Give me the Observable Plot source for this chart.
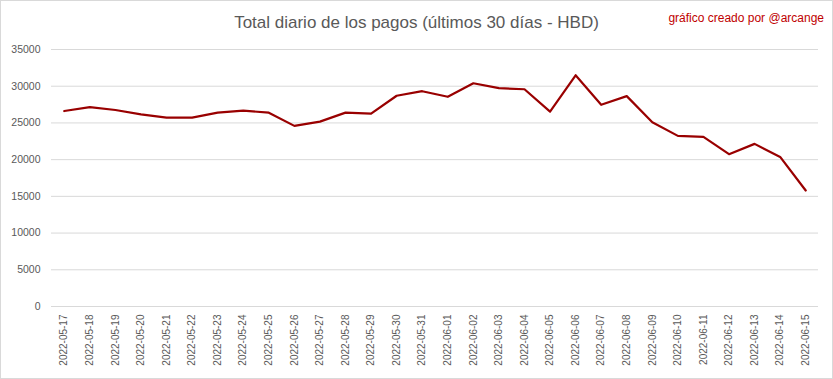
<!DOCTYPE html>
<html>
<head>
<meta charset="utf-8">
<script src="https://cdn.jsdelivr.net/npm/d3@7"></script>
<script src="https://cdn.jsdelivr.net/npm/@observablehq/plot@0.6"></script>
<style>
  html, body { margin: 0; padding: 0; background: #fff; }
  #frame { position: relative; width: 831px; height: 377px; border: 1px solid #d9d9d9; background: #fff; overflow: hidden; }
  #title { position: absolute; left: 0; width: 831px; top: 11px; text-align: center; font-family: "Liberation Sans", Arial, sans-serif; font-size: 17px; color: #595959; line-height: 22px; }
  #credit { position: absolute; right: 8px; top: 9px; font-family: "Liberation Sans", Arial, sans-serif; font-size: 12px; color: #c00000; line-height: 16px; }
  #chart { position: absolute; left: 0; top: 0; }
</style>
</head>
<body>
<div id="frame">
  <div id="chart"></div>
  <div id="title">Total diario de los pagos (últimos 30 días - HBD)</div>
  <div id="credit">gráfico creado por @arcange</div>
</div>
<script>
const dates = [
  "2022-05-17","2022-05-18","2022-05-19","2022-05-20","2022-05-21","2022-05-22",
  "2022-05-23","2022-05-24","2022-05-25","2022-05-26","2022-05-27","2022-05-28",
  "2022-05-29","2022-05-30","2022-05-31","2022-06-01","2022-06-02","2022-06-03",
  "2022-06-04","2022-06-05","2022-06-06","2022-06-07","2022-06-08","2022-06-09",
  "2022-06-10","2022-06-11","2022-06-12","2022-06-13","2022-06-14","2022-06-15"
];
const values = [
  26620, 27160, 26760, 26170, 25720, 25720,
  26400, 26670, 26400, 24600, 25180, 26400,
  26260, 28700, 29320, 28560, 30400, 29730,
  29590, 26530, 31490, 27470, 28650, 25090,
  23240, 23100, 20740, 22150, 20370, 15800
];
const yTicks = [0, 5000, 10000, 15000, 20000, 25000, 30000, 35000];

const data = dates.map((d, i) => ({date: d, value: values[i]}));

const chart = Plot.plot({
  width: 831,
  height: 377,
  marginLeft: 50,
  marginRight: 14,
  marginTop: 48,
  marginBottom: 72,
  style: {fontFamily: "'Liberation Sans', Arial, sans-serif", color: "#595959", background: "transparent"},
  x: {type: "point", domain: dates, padding: 0.5, round: false},
  y: {domain: [0, 35000]},
  marks: [
    Plot.gridY(yTicks, {stroke: "#d9d9d9", strokeOpacity: 1, strokeWidth: 1}),
    Plot.axisY(yTicks, {tickSize: 0, tickPadding: 11, label: null, fontSize: 10.5, tickFormat: d => String(d), fill: "#595959"}),
    Plot.axisX({tickSize: 0, tickPadding: 8, tickRotate: -90, label: null, fontSize: 10, fill: "#595959"}),
    Plot.line(data, {x: "date", y: "value", stroke: "#990000", strokeWidth: 2.2, strokeLinejoin: "round"})
  ]
});
document.getElementById("chart").appendChild(chart);
</script>
</body>
</html>
